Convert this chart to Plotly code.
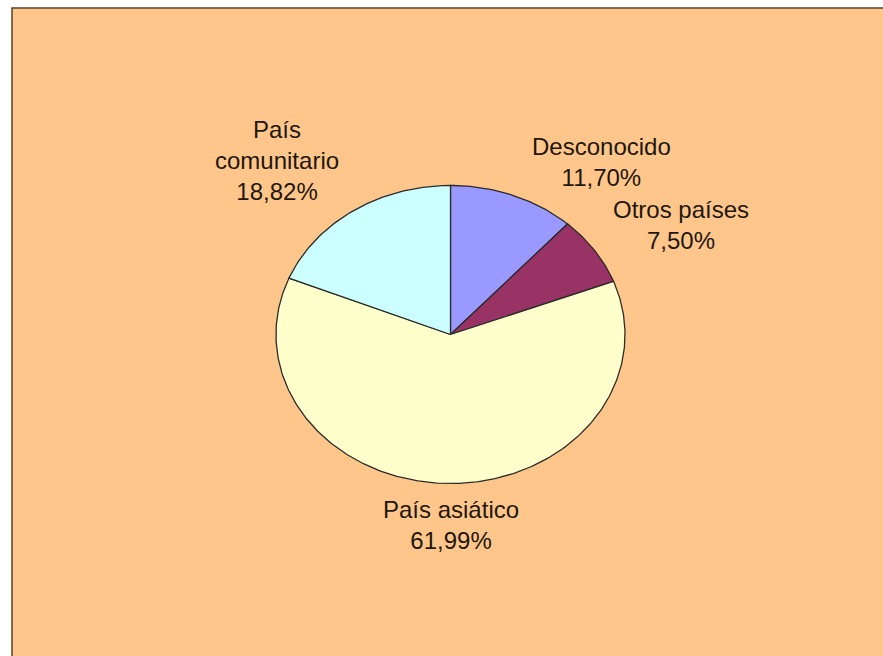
import numpy as np
import plotly.graph_objects as go

# ---- data ----
categories = ["Desconocido", "Otros países", "País asiático", "País comunitario"]
label_lines = ["Desconocido", "Otros países", "País asiático", "País<br>comunitario"]
values = [11.70, 7.50, 61.99, 18.82]
colors = ["#9999FF", "#993366", "#FFFFCC", "#CCFFFF"]

W, H = 883, 656
# pie geometry in pixels (elliptical, as in the reference)
cx, cy, rx, ry = 450.5, 334.5, 174.5, 149.0

fig = go.Figure()

total = sum(values)
start = 0.0
for name, v, col in zip(categories, values, colors):
    a0 = start / total * 2 * np.pi
    a1 = (start + v) / total * 2 * np.pi
    t = np.linspace(a0, a1, max(int(v * 4), 8))
    xs = np.concatenate([[0.0], np.sin(t), [0.0]])
    ys = np.concatenate([[0.0], np.cos(t), [0.0]])
    fig.add_trace(go.Scatter(
        x=xs, y=ys, mode="lines", fill="toself", fillcolor=col,
        line=dict(color="#2b2b2b", width=1.3), name=name,
        hoverinfo="name", showlegend=False))
    start += v

# label positions (pixel centres)
label_pos = [(601, 162), (681, 225), (451, 525), (277, 161)]
for lines, v, (px, py) in zip(label_lines, values, label_pos):
    pct = f"{v:.2f}".replace(".", ",") + "%"
    fig.add_annotation(
        x=px / W, y=1 - py / H, xref="paper", yref="paper",
        text=f"{lines}<br>{pct}", showarrow=False,
        xanchor="center", yanchor="middle",
        font=dict(family="Liberation Sans, Arial, sans-serif", size=24, color="#1e170c"))

# background panel with border (left and top visible)
fig.add_shape(type="rect", xref="paper", yref="paper",
              x0=12 / W, x1=1.02, y0=-0.02, y1=1 - 8 / H,
              fillcolor="#FFC68C", line=dict(color="#5a4020", width=1.5),
              layer="below")

fig.update_layout(
    width=W, height=H,
    margin=dict(l=0, r=0, t=0, b=0),
    paper_bgcolor="white", plot_bgcolor="rgba(0,0,0,0)",
    xaxis=dict(range=[-cx / rx, (W - cx) / rx], visible=False, fixedrange=True),
    yaxis=dict(range=[-(H - cy) / ry, cy / ry], visible=False, fixedrange=True),
    showlegend=False,
)

fig.write_html("out.html", config={"displayModeBar": False},
               post_script="document.body.style.margin='0';document.body.style.overflow='hidden';")
